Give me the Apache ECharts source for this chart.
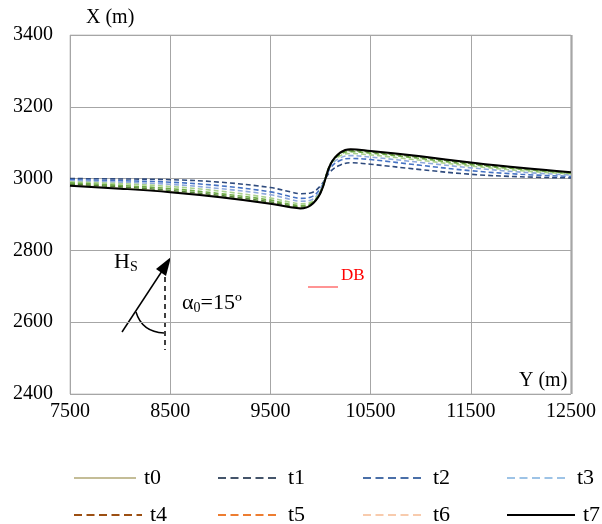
<!DOCTYPE html>
<html>
<head>
<meta charset="utf-8">
<script src="https://cdn.jsdelivr.net/npm/echarts@6/dist/echarts.min.js"></script>
<style>
  html, body { margin: 0; padding: 0; background: #fff; }
  #chart { width: 602px; height: 524px; }
</style>
</head>
<body>
<div id="chart"></div>
<script>
// distance along the coast, Y (m)
const alongshore = [7500, 8000, 8500, 9000, 9500, 9700, 9800, 9900, 10000, 10100, 10200, 10300, 10500, 11000, 11500, 12000, 12500]

// shoreline position X (m) for each time step
const t0 = [2981, 2973, 2963, 2949, 2931, 2921, 2919, 2926, 2960, 3040, 3074, 3081, 3076, 3061, 3044, 3029, 3017]
const t1 = [3000, 2999, 2997, 2990, 2975, 2963, 2958, 2960, 2980, 3020, 3038, 3044, 3040, 3025, 3012, 3005, 3002]
const t2 = [2997, 2994, 2990, 2980, 2963, 2950, 2945, 2948, 2973, 3030, 3051, 3056, 3053, 3037, 3022, 3012, 3006]
const t3 = [2994, 2990, 2984, 2972, 2955, 2942, 2937, 2940, 2968, 3035, 3058, 3064, 3060, 3045, 3030, 3018, 3010]
const t4 = [2991, 2986, 2978, 2965, 2946, 2934, 2930, 2934, 2965, 3038, 3064, 3070, 3066, 3051, 3035, 3022, 3013]
const t5 = [2988, 2981, 2972, 2958, 2940, 2928, 2925, 2930, 2963, 3040, 3068, 3075, 3071, 3056, 3039, 3026, 3015]
const t6 = [2984, 2977, 2967, 2953, 2935, 2924, 2921, 2927, 2961, 3041, 3071, 3078, 3074, 3059, 3042, 3028, 3016]
const t7 = [2980, 2972, 2962, 2948, 2930, 2920, 2917, 2925, 2960, 3040, 3073, 3082, 3077, 3062, 3045, 3030, 3018]

const names = ['t0', 't1', 't2', 't3', 't4', 't5', 't6', 't7']
const values = [t0, t1, t2, t3, t4, t5, t6, t7]

// plot colours vs. legend colours (the legend of the original differs)
const plotColors = ['#c4bd97', '#2e4a7d', '#4472c4', '#8faadc', '#a9d18e', '#70ad47', '#548235', '#000000']
const legendColors = ['#c4bd97', '#44546a', '#4a6fa8', '#9dc3e6', '#9c4f12', '#ed7d31', '#f8cbad', '#000000']

const serif = 'Liberation Serif'

let chart = echarts.init(document.getElementById('chart'))

function makeSeries() {
    return names.map((n, i) => {
        let solid = (i === 0 || i === 7)
        return {
            name: n,
            type: 'line',
            smooth: 0.4,
            symbol: 'none',
            z: i === 7 ? 5 : 3,
            lineStyle: {
                color: plotColors[i],
                width: i === 7 ? 2 : 1.6,
                type: solid ? 'solid' : [5, 3]
            },
            data: alongshore.map((y, k) => [y, values[i][k]])
        }
    })
}

// 4 columns x 2 rows of legend entries
let colLeft = [73, 217, 362, 506]
let rowTop = [467, 504]

function makeLegends() {
    return names.map((n, i) => {
        let solid = (i === 0 || i === 7)
        return {
            left: colLeft[i % 4],
            top: rowTop[Math.floor(i / 4)],
            padding: 0,
            itemWidth: (i === 4 || i === 7) ? 68 : 62,
            itemHeight: 14,
            selectedMode: false,
            textStyle: { fontFamily: serif, fontSize: 22, color: '#000', padding: [0, 0, 0, 3] },
            data: [{
                name: n,
                lineStyle: {
                    color: legendColors[i],
                    width: 2,
                    type: solid ? 'solid' : [8, 4.5]
                },
                itemStyle: { color: legendColors[i], opacity: 0 }
            }]
        }
    })
}

chart.setOption({
    animation: false,
    backgroundColor: '#fff',
    grid: {
        left: 70,
        right: 31,
        top: 35,
        bottom: 130,
        show: true,
        borderColor: '#c8c8c8',
        borderWidth: 1
    },
    xAxis: {
        type: 'value',
        min: 7500,
        max: 12500,
        interval: 1000,
        axisLine: { show: false },
        axisTick: { show: false },
        axisLabel: { fontFamily: serif, fontSize: 20, color: '#000', margin: 8, formatter: v => String(v) },
        splitLine: { lineStyle: { color: '#a6a6a6', width: 1 } }
    },
    yAxis: {
        type: 'value',
        min: 2400,
        max: 3400,
        interval: 200,
        axisLine: { show: false },
        axisTick: { show: false },
        axisLabel: { fontFamily: serif, fontSize: 20, color: '#000', margin: 17, formatter: v => String(v) },
        splitLine: { lineStyle: { color: '#a6a6a6', width: 1 } }
    },
    legend: makeLegends(),
    series: makeSeries(),
    graphic: [
        // axis names
        { type: 'text', left: 86, top: 8, style: { text: 'X (m)', font: '20px ' + serif, fill: '#000' } },
        { type: 'text', left: 519, top: 371, style: { text: 'Y (m)', font: '20px ' + serif, fill: '#000' } },
        // right border of the plot, a bit heavier in the original
        { type: 'line', shape: { x1: 571.5, y1: 35, x2: 571.5, y2: 394 }, style: { stroke: '#c8c8c8', lineWidth: 3 } },
        // wave direction sketch
        { type: 'line', shape: { x1: 122, y1: 332, x2: 164, y2: 268 }, style: { stroke: '#000', lineWidth: 1.5 } },
        { type: 'polygon', shape: { points: [[171, 257], [166, 276], [156, 269]] }, style: { fill: '#000' } },
        { type: 'line', shape: { x1: 165, y1: 268, x2: 165, y2: 350 }, style: { stroke: '#000', lineWidth: 1.5, lineDash: [5, 4] } },
        { type: 'bezierCurve', shape: { x1: 136, y1: 312, cpx1: 142, cpy1: 332, x2: 164, y2: 333 }, style: { stroke: '#000', lineWidth: 1.5, fill: null } },
        {
            type: 'text', left: 114, top: 251,
            style: {
                text: '{a|H}{s|S}',
                rich: {
                    a: { fontFamily: serif, fontSize: 22, fill: '#000' },
                    s: { fontFamily: serif, fontSize: 14, fill: '#000', padding: [10, 0, 0, 0] }
                }
            }
        },
        {
            type: 'text', left: 182, top: 292,
            style: {
                text: '{a|α}{s|0}{a|=15º}',
                rich: {
                    a: { fontFamily: serif, fontSize: 22, fill: '#000' },
                    s: { fontFamily: serif, fontSize: 14, fill: '#000', padding: [10, 0, 0, 0] }
                }
            }
        },
        // DB label
        { type: 'line', shape: { x1: 308, y1: 287, x2: 338, y2: 287 }, style: { stroke: '#ff7070', lineWidth: 1.5 } },
        { type: 'text', left: 341, top: 267, style: { text: 'DB', font: '17px ' + serif, fill: '#ff0000' } }
    ]
})
</script>
</body>
</html>
